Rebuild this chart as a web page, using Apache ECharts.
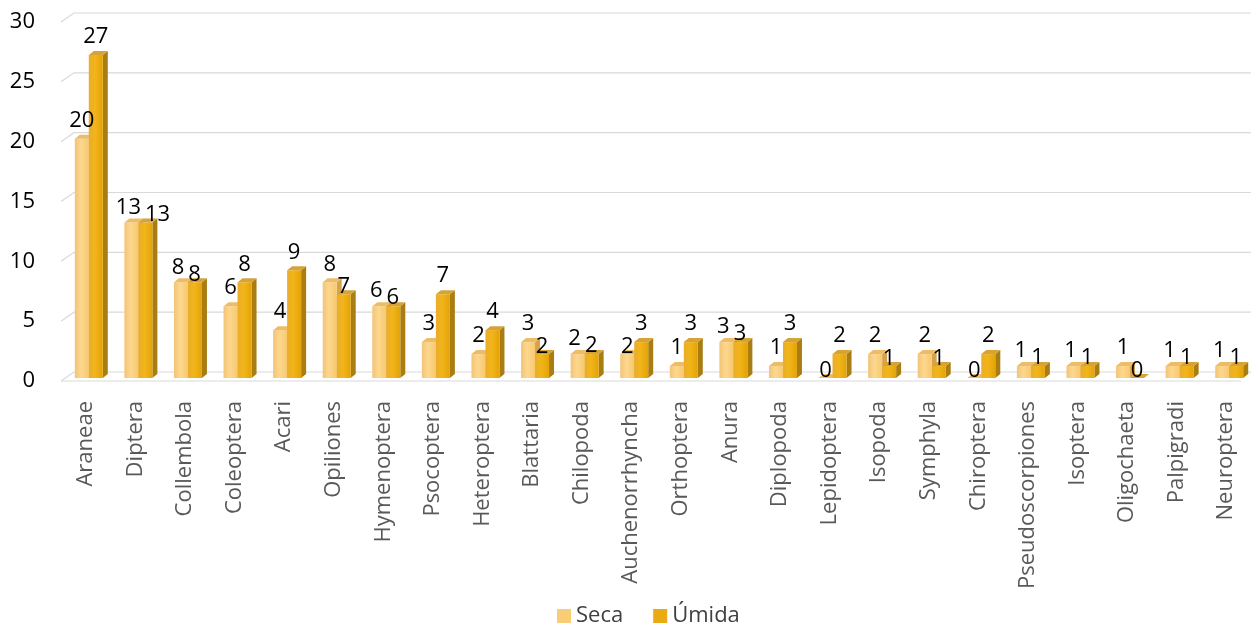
<!DOCTYPE html>
<html>
<head>
<meta charset="utf-8">
<script src="https://cdn.jsdelivr.net/npm/echarts@6/dist/echarts.min.js"></script>
<style>
html,body{margin:0;padding:0;background:#fff;}
#chart{width:1255px;height:626px;}
</style>
</head>
<body>
<div id="chart"></div>
<script>
const categories = ['Araneae','Diptera','Collembola','Coleoptera','Acari','Opiliones','Hymenoptera','Psocoptera','Heteroptera','Blattaria','Chilopoda','Auchenorrhyncha','Orthoptera','Anura','Diplopoda','Lepidoptera','Isopoda','Symphyla','Chiroptera','Pseudoscorpiones','Isoptera','Oligochaeta','Palpigradi','Neuroptera'];
const seca  = [20,13,8,6,4,8,6,3,2,3,2,2,1,3,1,0,2,2,0,1,1,1,1,1];
const umida = [27,13,8,8,9,7,6,7,4,2,2,3,3,3,3,2,1,1,2,1,1,0,1,1];
const yTicks = [0,5,10,15,20,25,30];
const seriesNames = ['Seca','Úmida'];

const FONT = '"Open Sans", "Noto Sans", sans-serif';
const BW = 14, DX = 5, DY = 4, OX = 3, OY = 3;
const DIGIT = 12.6;

const palette = [
  { legend:'#F9CD75', front:['#F2C477','#FDD78E','#F7C96F'], top:'#EDBC68', side:'#D9A24A' },
  { legend:'#E9AA12', front:['#E9AD2C','#F2B519','#E3A307'], top:'#D6A23A', side:'#A97D12' }
];

function labelPositions(c, vs, vu, ys, yu) {
  const ws = String(vs).length * DIGIT, wu = String(vu).length * DIGIT;
  let sx = c - BW/2, sy = ys - 18, ux = c + BW/2, uy = yu - 18;
  if (vs === vu) {
    if (ux - sx < (ws + wu)/2 + 2) {
      sx -= 3; sy += 3;
      ux = sx + (ws + wu)/2 + 4;
      uy = yu - 8;
    }
  } else if (Math.abs(vs - vu) === 1 || Math.min(vs, vu) === 0) {
    if (vs < vu) sy = ys - 7; else uy = yu - 7;
  }
  return { s:[sx, sy], u:[ux, uy] };
}

function makeBarRender(which) {
  const col = palette[which];
  return function (params, api) {
    const i = api.value(0), v = api.value(1), o = api.value(2);
    const base = api.coord([i, 0]);
    const c = base[0] + OX;
    const yb = base[1] - OY;
    const yt = api.coord([i, v])[1] - OY;
    const yo = api.coord([i, o])[1] - OY;
    const x0 = which === 0 ? c - BW : c;
    const x1 = x0 + BW;
    const vs = which === 0 ? v : o, vu = which === 0 ? o : v;
    const ys = which === 0 ? yt : yo, yu = which === 0 ? yo : yt;
    const lp = labelPositions(c, vs, vu, ys, yu);
    const pos = which === 0 ? lp.s : lp.u;
    return {
      type: 'group',
      children: [
        { type:'polygon', shape:{ points:[[x1,yt],[x1+DX,yt-DY],[x1+DX,yb-DY],[x1,yb]] },
          style:{ fill: col.side } },
        { type:'rect', shape:{ x:x0, y:yt, width:BW, height:yb-yt },
          style:{ fill: new echarts.graphic.LinearGradient(0,0,1,0,[
            {offset:0,color:col.front[0]},{offset:0.45,color:col.front[1]},{offset:1,color:col.front[2]}]) } },
        { type:'polygon', shape:{ points:[[x0,yt],[x1,yt],[x1+DX,yt-DY],[x0+DX,yt-DY]] },
          style:{ fill: col.top } },
        { type:'text', z2:100, style:{ text:String(v), x:pos[0], y:pos[1], fill:'#000',
          fontSize:22, fontFamily:FONT, align:'center', verticalAlign:'middle' } }
      ]
    };
  };
}

function gridRender(params, api) {
  const cs = params.coordSys;
  const t = api.value(1);
  const y = api.coord([0, t])[1];
  const children = [
    { type:'polyline', shape:{ points:[[cs.x, y],[cs.x+13, y-9],[cs.x+cs.width, y-9]] },
      style:{ stroke:'#D9D9D9', lineWidth:1.2, fill:null } }
  ];
  if (t === 0) {
    children.push({ type:'line', shape:{ x1:cs.x, y1:y, x2:cs.x+cs.width-10, y2:y },
      style:{ stroke:'#D9D9D9', lineWidth:1.2 } });
  }
  return { type:'group', children };
}

const chart = echarts.init(document.getElementById('chart'));
chart.setOption({
  animation: false,
  backgroundColor: '#fff',
  grid: { left: 61, right: 4, top: 22, bottom: 245 },
  legend: {
    data: seriesNames, top: 600, left: 552, icon: 'rect',
    itemWidth: 14, itemHeight: 14, itemGap: 30,
    textStyle: { fontSize: 22, color: '#404040', fontFamily: FONT }
  },
  xAxis: {
    type: 'category', data: categories,
    axisLine: { show: false }, axisTick: { show: false },
    axisLabel: { rotate: 90, fontSize: 22, color: '#595959', fontFamily: FONT, margin: 20, interval: 0 }
  },
  yAxis: {
    type: 'value', min: 0, max: 30, interval: 5,
    splitLine: { show: false }, axisLine: { show: false }, axisTick: { show: false },
    axisLabel: { fontSize: 22, color: '#000', fontFamily: FONT, margin: 26 }
  },
  series: [
    { type:'custom', name:'grid', z:1, clip:false, silent:true, renderItem: gridRender,
      encode:{ x:0, y:1 }, data: yTicks.map(t => [0, t]) },
    { type:'custom', name: seriesNames[0], z:2, clip:false, renderItem: makeBarRender(0),
      itemStyle:{ color: palette[0].legend }, encode:{ x:0, y:1 },
      data: categories.map((c, i) => [i, seca[i], umida[i]]) },
    { type:'custom', name: seriesNames[1], z:2, clip:false, renderItem: makeBarRender(1),
      itemStyle:{ color: palette[1].legend }, encode:{ x:0, y:1 },
      data: categories.map((c, i) => [i, umida[i], seca[i]]) }
  ]
});
</script>
</body>
</html>
